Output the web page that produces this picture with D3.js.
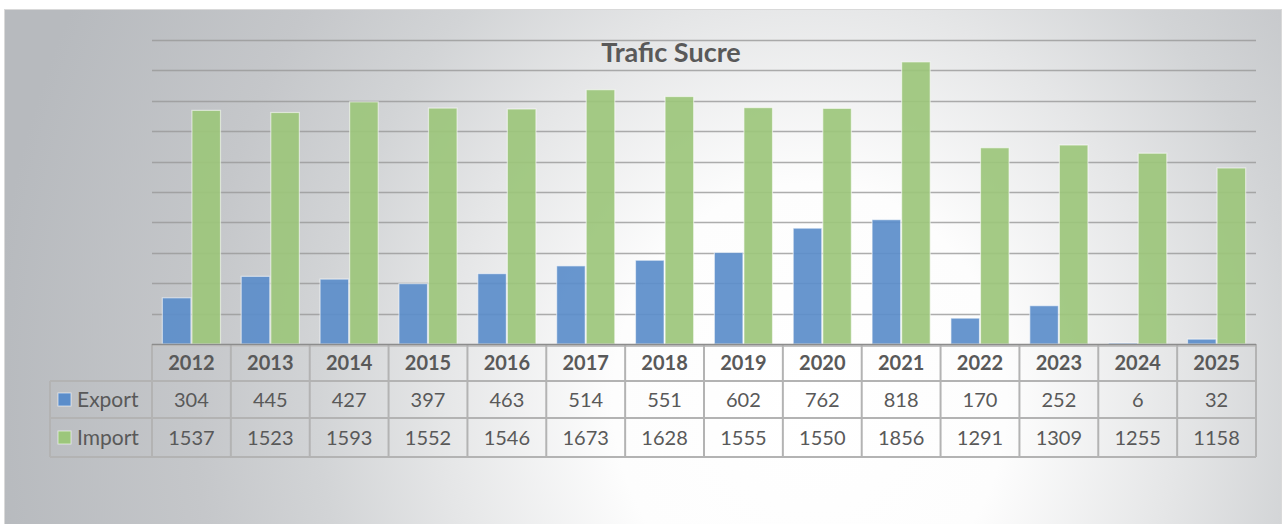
<!DOCTYPE html>
<html><head><meta charset="utf-8">
<script src="https://cdn.jsdelivr.net/npm/d3@7/dist/d3.min.js"></script>
<style>html,body{margin:0;padding:0;background:#fff;}svg{display:block;}</style>
</head><body>
<svg id="chart" width="1285" height="524"></svg>
<script>
const years = ["2012","2013","2014","2015","2016","2017","2018","2019","2020","2021","2022","2023","2024","2025"];
const exportVals = [304,445,427,397,463,514,551,602,762,818,170,252,6,32];
const importVals = [1537,1523,1593,1552,1546,1673,1628,1555,1550,1856,1291,1309,1255,1158];
const seriesNames = ["Export","Import"];
const seriesColors = ["#5b8dca","#9cc67b"];
const gridTicks = [200,400,600,800,1000,1200,1400,1600,1800,2000];
const chartTitle = "Trafic Sucre";

(function(){
const svg = d3.select("#chart");
const font = "Lato, 'Open Sans', sans-serif";
const txt = "#595959";

// background gradient
const defs = svg.append("defs");
const g = defs.append("radialGradient").attr("id","bg").attr("gradientUnits","userSpaceOnUse")
  .attr("cx",810).attr("cy",400).attr("r",820)
  .attr("gradientTransform","translate(810,400) scale(1.0,1.1) translate(-810,-400)");
[[0,"#ffffff"],[0.24,"#fdfdfd"],[0.45,"#e5e6e7"],[0.6,"#d2d4d6"],[0.75,"#c5c7ca"],[1,"#b7babe"]]
  .forEach(([o,c])=>g.append("stop").attr("offset",o).attr("stop-color",c));

svg.append("rect").attr("x",4.5).attr("y",9.5).attr("width",1277).attr("height",520)
  .attr("fill","url(#bg)").attr("stroke","#d9d9d9").attr("stroke-width",1);

const pL = 152, pR = 1256, pT = 40, base = 344;
const x = d3.scaleBand().domain(years).range([pL,pR]).paddingInner(0.25).paddingOuter(0.125);
const xs = d3.scaleBand().domain(seriesNames).range([0,x.bandwidth()]);
const y = d3.scaleLinear().domain([0,2000]).range([base,pT]);
const step = x.step();

// gridlines
svg.append("g").selectAll("line").data(gridTicks).join("line")
  .attr("x1",pL).attr("x2",pR)
  .attr("y1",d=>Math.round(y(d))+0.5).attr("y2",d=>Math.round(y(d))+0.5)
  .attr("stroke","#999999").attr("stroke-opacity",0.8).attr("stroke-width",1.5);

// title
svg.append("text").attr("x",671).attr("y",62).attr("text-anchor","middle")
  .attr("font-family",font).attr("font-weight","bold").attr("font-size",27)
  .attr("fill",txt).text(chartTitle);

// bars
const data = years.map((yr,i)=>({yr, vals:[exportVals[i],importVals[i]]}));
const grp = svg.append("g").selectAll("g").data(data).join("g")
  .attr("transform",d=>`translate(${x(d.yr)},0)`);
grp.selectAll("rect").data(d=>d.vals.map((v,j)=>({v,j}))).join("rect")
  .attr("x",d=>xs(seriesNames[d.j])+0.5)
  .attr("width",xs.bandwidth()-1)
  .attr("y",d=>y(d.v))
  .attr("height",d=>base-y(d.v))
  .attr("fill",d=>seriesColors[d.j]).attr("fill-opacity",0.92)
  .attr("stroke","#ffffff").attr("stroke-opacity",0.55).attr("stroke-width",1.2);

// table
const rowY = [345,381,418,457];
const legL = 50;
const tb = svg.append("g").attr("stroke","#b3b3b3").attr("stroke-width",2).attr("fill","none");
svg.append("line").attr("x1",pL).attr("x2",pR).attr("y1",base+0.5).attr("y2",base+0.5)
  .attr("stroke","#8c8c8c").attr("stroke-width",1.5);
tb.append("line").attr("x1",pL).attr("x2",pR).attr("y1",rowY[0]+1).attr("y2",rowY[0]+1).attr("stroke","#c4c4c4");
[rowY[1],rowY[2],rowY[3]].forEach(yy=>tb.append("line").attr("x1",legL).attr("x2",pR).attr("y1",yy).attr("y2",yy));
const bounds = years.map(yr=>x(yr)-x.paddingOuter()*step).concat([pR]);
bounds.forEach(bx=>tb.append("line").attr("x1",bx).attr("x2",bx).attr("y1",base).attr("y2",rowY[3]));
tb.append("line").attr("x1",legL).attr("x2",legL).attr("y1",rowY[1]).attr("y2",rowY[3]);

svg.append("g").selectAll("text").data(years).join("text")
  .attr("x",d=>x(d)+x.bandwidth()/2).attr("y",370)
  .attr("text-anchor","middle").attr("font-family",font).attr("font-weight","bold")
  .attr("font-size",20).attr("fill",txt).text(d=>d);

[exportVals,importVals].forEach((arr,j)=>{
  const cy = j===0 ? 407 : 445;
  svg.append("g").selectAll("text").data(arr).join("text")
    .attr("x",(d,i)=>x(years[i])+x.bandwidth()/2).attr("y",cy)
    .attr("text-anchor","middle").attr("font-family",font)
    .attr("font-size",20).attr("fill",txt).text(d=>d);
  svg.append("rect").attr("x",58).attr("y",cy-14).attr("width",13).attr("height",13)
    .attr("fill",seriesColors[j]).attr("stroke","#fff").attr("stroke-opacity",0.6);
  svg.append("text").attr("x",77).attr("y",cy).attr("font-family",font)
    .attr("font-size",21).attr("fill",txt).text(seriesNames[j]);
});
})();
</script>
</body></html>
